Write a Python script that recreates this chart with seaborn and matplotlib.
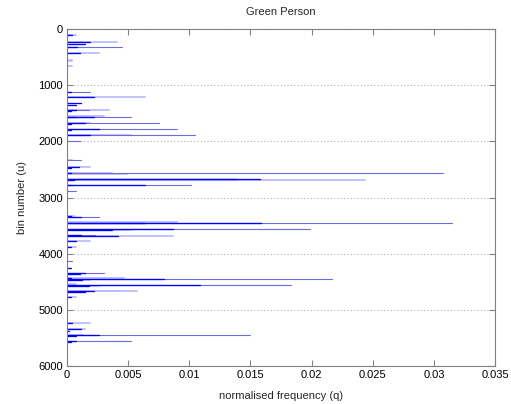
import numpy as np
import pandas as pd
import matplotlib
matplotlib.use("Agg")
import matplotlib.pyplot as plt
import seaborn as sns

# Histogram spikes: bin number (u) and normalised frequency (q) for three overlaid layers
light_bins = [107, 226, 427, 546, 576, 665, 1210, 1442, 1555, 1667, 1893, 2337, 2462,
              2564, 2576, 2684, 3323, 3440, 3571, 3684, 3779, 3886, 4432, 4450, 4474,
              4545, 4569, 4658, 4670, 4776, 5227, 5340, 5441]
light_q = [0.00078, 0.0041, 0.0026, 0.0004, 0.0004, 0.0004, 0.0064, 0.0034, 0.0030,
           0.0019, 0.00525, 0.0004, 0.0019, 0.0037, 0.0049, 0.0244, 0.0006, 0.0090,
           0.00525, 0.00866, 0.0019, 0.00075, 0.0047, 0.0034, 0.0019, 0.00075, 0.0026,
           0.0045, 0.0057, 0.00075, 0.0019, 0.0015, 0.0013]

mid_bins = [326, 1121, 1448, 1561, 1667, 1780, 1887, 2000, 2337, 2570, 2777, 2890, 3346,
            3460, 3554, 3660, 4135, 4349, 4456, 4563, 5447, 5559]
mid_q = [0.0045, 0.0019, 0.0018, 0.00525, 0.0075, 0.0090, 0.0105, 0.0011, 0.00116,
         0.0307, 0.0101, 0.00075, 0.00266, 0.0315, 0.0199, 0.0023, 0.0004, 0.0030,
         0.0217, 0.0183, 0.0150, 0.00525]

dark_bins = [107, 226, 260, 326, 427, 1121, 1216, 1323, 1347, 1448, 1466, 1561, 1570,
             1667, 1685, 1780, 1797, 1887, 2462, 2480, 2570, 2662, 2676, 2690, 2777,
             2785, 3329, 3346, 3446, 3460, 3554, 3571, 3660, 3678, 3779, 3886, 4248,
             4349, 4366, 4438, 4456, 4474, 4563, 4575, 4664, 4681, 4776, 5227, 5340,
             5370, 5447, 5465, 5559, 5577]
dark_q = [0.00045, 0.0019, 0.0015, 0.0008, 0.0011, 0.00034, 0.00225, 0.00116, 0.00075,
          0.00075, 0.0003, 0.00225, 0.00075, 0.0015, 0.0003, 0.00266, 0.0003, 0.0019,
          0.00097, 0.0003, 0.0003, 0.01384, 0.01575, 0.0006, 0.0064, 0.0003, 0.00034,
          0.00116, 0.0064, 0.0159, 0.00866, 0.0037, 0.00116, 0.00416, 0.00075, 0.0003,
          0.00034, 0.0015, 0.0011, 0.0003, 0.0079, 0.0012, 0.0109, 0.0018, 0.00225,
          0.0015, 0.0003, 0.0004, 0.00116, 0.0002, 0.00266, 0.00075, 0.00075, 0.0003]

x_ticks = [0, 0.005, 0.01, 0.015, 0.02, 0.025, 0.03, 0.035]
x_tick_labels = ["0", "0.005", "0.01", "0.015", "0.02", "0.025", "0.03", "0.035"]
y_ticks = [0, 1000, 2000, 3000, 4000, 5000, 6000]


def segments(bins, q):
    # each spike becomes a two-point line from q = 0 out to its value
    rows = []
    for i, (b, v) in enumerate(zip(bins, q)):
        rows.append({"seg": i, "bin": b, "q": 0.0})
        rows.append({"seg": i, "bin": b, "q": v})
    return pd.DataFrame(rows)


sns.set_style("white")
plt.rcParams["font.family"] = ["Liberation Sans", "DejaVu Sans"]

fig = plt.figure(figsize=(5.11, 4.04), dpi=100)
ax = fig.add_axes([0.131, 0.094, 0.838, 0.834])

layers = [
    (light_bins, light_q, "#bcbcff", 1.3),
    (mid_bins, mid_q, "#6c6cdc", 0.8),
    (dark_bins, dark_q, "#0000ff", 0.95),
]
for bins, q, color, lw in layers:
    sns.lineplot(data=segments(bins, q), x="q", y="bin", units="seg",
                 estimator=None, sort=False, color=color, linewidth=lw,
                 ax=ax, legend=False)

ax.set_xlim(0, 0.035)
ax.set_ylim(6000, 0)
ax.set_xticks(x_ticks)
ax.set_xticklabels(x_tick_labels)
ax.set_yticks(y_ticks)

ax.yaxis.grid(True, linestyle=(0, (1, 2)), color="#b0b0b0", linewidth=0.8)
ax.xaxis.grid(False)
ax.set_axisbelow(True)

for side in ["left", "right", "top", "bottom"]:
    ax.spines[side].set_visible(True)
    ax.spines[side].set_color("#808080")
    ax.spines[side].set_linewidth(0.8)

ax.tick_params(axis="both", which="major", direction="in", length=4, width=0.8,
               color="#808080", labelsize=8, labelcolor="black",
               top=True, right=True, bottom=True, left=True, pad=3)

ax.set_xlabel("normalised frequency (q)", fontsize=8, labelpad=8)
ax.set_ylabel("bin number (u)", fontsize=8, labelpad=8)
ax.set_title("Green Person", fontsize=8, pad=10)

fig.savefig("out.png", dpi=100)
